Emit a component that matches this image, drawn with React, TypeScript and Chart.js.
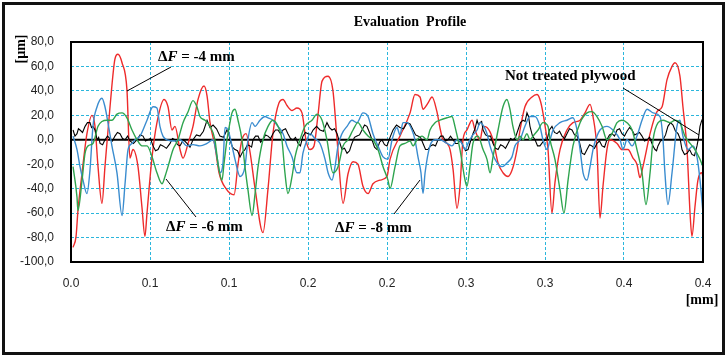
import React, { useEffect, useRef } from 'react';
import { Chart, registerables } from 'chart.js';
Chart.register(...registerables);

// x in mm, y in µm
const redPts: [number, number][] = [[0.0013,-88],[0.0032,-79],[0.0044,-58],[0.0070,-27],[0.0101,5],[0.0133,20],[0.0152,11],[0.0171,-22],[0.0196,-52],[0.0215,-22],[0.0247,27],[0.0278,66],[0.0297,70],[0.0323,63],[0.0354,41],[0.0373,-15],[0.0392,-8],[0.0424,-22],[0.0449,-55],[0.0468,-79],[0.0481,-60],[0.0513,-14],[0.0544,14],[0.0589,33],[0.0614,27],[0.0639,8],[0.0658,11],[0.0690,-8],[0.0709,-15],[0.0741,-3],[0.0772,11],[0.0804,33],[0.0842,44],[0.0861,36],[0.0880,14],[0.0911,-5],[0.0937,-27],[0.0981,-40],[0.1032,-45],[0.1057,-20],[0.1082,0],[0.1108,5],[0.1133,-10],[0.1165,-40],[0.1215,-76],[0.1247,-40],[0.1278,5],[0.1316,30],[0.1342,33],[0.1367,28],[0.1399,24],[0.1430,26],[0.1462,22],[0.1487,0],[0.1513,-8],[0.1538,-5],[0.1563,20],[0.1589,48],[0.1627,52],[0.1658,40],[0.1684,0],[0.1722,-52],[0.1753,-28],[0.1785,-18],[0.1816,-20],[0.1848,-38],[0.1880,-44],[0.1911,-36],[0.1956,-33],[0.2000,-30],[0.2019,-16],[0.2082,3],[0.2146,22],[0.2177,37],[0.2209,35],[0.2228,25],[0.2259,30],[0.2285,35],[0.2316,23],[0.2335,10],[0.2354,0],[0.2380,-3],[0.2399,-8],[0.2418,-24],[0.2443,-56],[0.2462,-38],[0.2481,0],[0.2506,8],[0.2538,16],[0.2557,8],[0.2589,0],[0.2608,11],[0.2633,10],[0.2671,0],[0.2703,-19],[0.2734,-27],[0.2766,-30],[0.2791,-25],[0.2823,-8],[0.2842,8],[0.2873,27],[0.2918,35],[0.2949,37],[0.2968,33],[0.2987,22],[0.3019,-8],[0.3044,-60],[0.3063,-35],[0.3095,-8],[0.3139,8],[0.3177,14],[0.3222,16],[0.3253,22],[0.3285,29],[0.3304,19],[0.3329,-8],[0.3348,-64],[0.3367,-38],[0.3392,-8],[0.3411,0],[0.3456,-3],[0.3487,-8],[0.3525,-8],[0.3557,-15],[0.3582,-20],[0.3601,-31],[0.3620,-22],[0.3665,5],[0.3709,23],[0.3741,27],[0.3772,49],[0.3804,60],[0.3823,63],[0.3854,52],[0.3873,27],[0.3899,-8],[0.3918,-60],[0.3930,-79],[0.3949,-55],[0.3968,-33],[0.3994,-27],[0.4000,-32]];

const bluePts: [number, number][] = [[0.0013,3],[0.0038,-8],[0.0057,-22],[0.0076,-33],[0.0101,-44],[0.0120,-25],[0.0139,11],[0.0165,27],[0.0196,34],[0.0215,27],[0.0234,14],[0.0259,-5],[0.0291,-27],[0.0323,-62],[0.0342,-36],[0.0361,-8],[0.0386,-3],[0.0405,0],[0.0437,3],[0.0481,16],[0.0519,27],[0.0544,26],[0.0563,11],[0.0582,3],[0.0608,0],[0.0658,-1],[0.0690,0],[0.0734,-5],[0.0772,-4],[0.0816,-5],[0.0861,-3],[0.0899,0],[0.0924,-14],[0.0943,-27],[0.0962,-19],[0.0975,10],[0.0994,8],[0.1019,-5],[0.1038,-16],[0.1070,-30],[0.1101,-22],[0.1120,0],[0.1146,14],[0.1165,11],[0.1196,16],[0.1228,19],[0.1247,18],[0.1278,16],[0.1310,11],[0.1342,5],[0.1367,-5],[0.1399,-14],[0.1430,-27],[0.1449,-27],[0.1468,-11],[0.1494,0],[0.1513,5],[0.1544,1],[0.1576,-3],[0.1608,-16],[0.1627,-27],[0.1652,-33],[0.1671,-22],[0.1690,-5],[0.1715,5],[0.1747,11],[0.1778,16],[0.1810,14],[0.1848,22],[0.1880,19],[0.1911,5],[0.1943,-5],[0.1975,-14],[0.2006,-16],[0.2032,0],[0.2063,10],[0.2082,4],[0.2101,14],[0.2127,14],[0.2158,8],[0.2177,0],[0.2196,-14],[0.2215,-27],[0.2228,-44],[0.2241,-27],[0.2272,-5],[0.2304,0],[0.2335,0],[0.2380,-3],[0.2411,-5],[0.2443,0],[0.2475,-3],[0.2494,-8],[0.2513,-3],[0.2538,3],[0.2570,8],[0.2589,14],[0.2608,12],[0.2633,5],[0.2652,-5],[0.2684,-16],[0.2728,-22],[0.2759,-19],[0.2791,-14],[0.2810,-5],[0.2842,0],[0.2873,11],[0.2905,19],[0.2937,19],[0.2968,11],[0.2987,0],[0.3013,-8],[0.3032,0],[0.3051,8],[0.3095,14],[0.3139,16],[0.3177,18],[0.3203,8],[0.3222,-8],[0.3241,-27],[0.3266,-33],[0.3285,-22],[0.3304,-8],[0.3329,3],[0.3348,8],[0.3392,11],[0.3430,8],[0.3475,0],[0.3494,-8],[0.3519,0],[0.3551,-5],[0.3582,3],[0.3614,16],[0.3646,25],[0.3684,22],[0.3728,19],[0.3747,0],[0.3759,-27],[0.3778,-53],[0.3804,-27],[0.3835,11],[0.3854,16],[0.3873,3],[0.3905,-8],[0.3937,-5],[0.3962,-14],[0.3981,-33],[0.4000,-60]];

const greenPts: [number, number][] = [[0.0013,-22],[0.0038,-47],[0.0044,-58],[0.0070,-33],[0.0089,-11],[0.0108,-5],[0.0139,-3],[0.0171,11],[0.0196,15],[0.0228,16],[0.0259,16],[0.0291,21],[0.0323,22],[0.0354,18],[0.0386,8],[0.0418,0],[0.0449,-5],[0.0481,-5],[0.0513,-14],[0.0544,-27],[0.0576,-36],[0.0595,-30],[0.0614,-22],[0.0646,-8],[0.0677,0],[0.0709,14],[0.0741,23],[0.0772,32],[0.0797,27],[0.0816,19],[0.0848,16],[0.0880,11],[0.0911,0],[0.0930,-19],[0.0956,-33],[0.0968,-20],[0.0987,0],[0.1006,14],[0.1019,22],[0.1038,25],[0.1057,16],[0.1082,0],[0.1101,-22],[0.1120,-41],[0.1146,-62],[0.1165,-44],[0.1184,-22],[0.1215,0],[0.1247,11],[0.1278,16],[0.1310,11],[0.1335,0],[0.1354,-27],[0.1373,-44],[0.1399,-30],[0.1418,-14],[0.1449,0],[0.1481,11],[0.1525,16],[0.1557,21],[0.1589,16],[0.1620,0],[0.1658,-27],[0.1690,-22],[0.1722,-5],[0.1753,0],[0.1785,8],[0.1816,14],[0.1848,8],[0.1880,3],[0.1911,0],[0.1943,-8],[0.1975,-22],[0.2006,-33],[0.2019,-40],[0.2051,-22],[0.2082,-5],[0.2114,-3],[0.2146,-1],[0.2165,-5],[0.2190,0],[0.2222,3],[0.2253,0],[0.2272,8],[0.2304,14],[0.2335,16],[0.2380,18],[0.2411,19],[0.2430,11],[0.2462,-8],[0.2494,-33],[0.2506,-38],[0.2525,-22],[0.2544,-3],[0.2576,3],[0.2608,-8],[0.2633,-16],[0.2652,-27],[0.2671,-14],[0.2703,8],[0.2734,27],[0.2759,33],[0.2778,25],[0.2797,11],[0.2823,0],[0.2842,3],[0.2861,0],[0.2886,5],[0.2905,0],[0.2924,3],[0.2956,8],[0.2987,14],[0.3019,11],[0.3032,0],[0.3063,-16],[0.3095,-41],[0.3120,-60],[0.3146,-33],[0.3177,-5],[0.3222,14],[0.3266,22],[0.3297,23],[0.3329,19],[0.3361,11],[0.3392,0],[0.3424,5],[0.3456,14],[0.3487,16],[0.3519,14],[0.3551,8],[0.3582,-8],[0.3614,-27],[0.3639,-53],[0.3665,-27],[0.3684,0],[0.3716,14],[0.3747,16],[0.3791,14],[0.3823,16],[0.3854,14],[0.3886,3],[0.3918,-3],[0.3949,-8],[0.3981,-16],[0.4000,-22]];

const blackPts: [number, number][] = [[0.0013,8],[0.0025,3],[0.0038,5],[0.0047,9],[0.0057,8],[0.0073,6],[0.0089,11],[0.0104,14],[0.0120,14],[0.0130,10],[0.0139,11],[0.0152,8],[0.0165,0],[0.0175,2],[0.0184,-3],[0.0200,-4],[0.0215,0],[0.0231,3],[0.0247,1],[0.0262,-1],[0.0278,3],[0.0294,6],[0.0310,5],[0.0326,1],[0.0342,0],[0.0358,3],[0.0373,-1],[0.0395,-3],[0.0418,0],[0.0437,4],[0.0456,3],[0.0471,-1],[0.0487,0],[0.0503,1],[0.0519,-5],[0.0535,-9],[0.0551,-8],[0.0566,-4],[0.0582,-5],[0.0604,-7],[0.0627,-3],[0.0642,1],[0.0658,0],[0.0674,-4],[0.0690,-5],[0.0712,0],[0.0734,-3],[0.0753,-6],[0.0772,0],[0.0794,4],[0.0816,3],[0.0838,7],[0.0861,16],[0.0880,10],[0.0899,12],[0.0921,9],[0.0943,3],[0.0965,2],[0.0987,8],[0.0997,6],[0.1006,0],[0.1022,-6],[0.1038,-8],[0.1054,-9],[0.1070,-14],[0.1086,-10],[0.1101,-8],[0.1117,-4],[0.1133,-5],[0.1143,-6],[0.1152,0],[0.1168,3],[0.1184,3],[0.1200,-2],[0.1215,0],[0.1231,4],[0.1247,3],[0.1263,1],[0.1278,5],[0.1294,8],[0.1310,8],[0.1326,5],[0.1342,8],[0.1358,9],[0.1373,5],[0.1389,1],[0.1405,0],[0.1421,2],[0.1437,-3],[0.1452,-5],[0.1468,3],[0.1484,6],[0.1500,5],[0.1516,4],[0.1532,8],[0.1554,11],[0.1576,8],[0.1598,7],[0.1620,14],[0.1636,10],[0.1652,8],[0.1668,9],[0.1684,5],[0.1700,-2],[0.1715,-8],[0.1731,-7],[0.1747,-11],[0.1763,-9],[0.1778,-3],[0.1794,2],[0.1810,3],[0.1826,4],[0.1842,8],[0.1858,12],[0.1873,11],[0.1889,6],[0.1905,0],[0.1921,-6],[0.1937,-8],[0.1953,-2],[0.1968,0],[0.1984,-4],[0.2000,-5],[0.2019,2],[0.2038,8],[0.2060,12],[0.2082,10],[0.2105,9],[0.2127,14],[0.2146,13],[0.2165,8],[0.2181,4],[0.2196,3],[0.2212,2],[0.2228,-3],[0.2244,-8],[0.2259,-8],[0.2275,-5],[0.2291,-4],[0.2307,-5],[0.2323,0],[0.2339,3],[0.2354,3],[0.2370,-1],[0.2386,0],[0.2402,3],[0.2418,0],[0.2434,-3],[0.2449,-3],[0.2465,0],[0.2481,-5],[0.2497,-9],[0.2513,-8],[0.2529,-1],[0.2544,5],[0.2557,9],[0.2570,16],[0.2580,12],[0.2589,14],[0.2599,15],[0.2608,8],[0.2624,4],[0.2639,3],[0.2655,3],[0.2671,-3],[0.2687,-7],[0.2703,-8],[0.2719,-4],[0.2734,-5],[0.2750,-7],[0.2766,-3],[0.2782,1],[0.2797,0],[0.2813,2],[0.2829,8],[0.2845,14],[0.2861,16],[0.2874,15],[0.2886,22],[0.2896,19],[0.2905,11],[0.2921,3],[0.2937,0],[0.2953,-5],[0.2968,-5],[0.2991,-1],[0.3013,0],[0.3028,8],[0.3044,11],[0.3060,6],[0.3076,5],[0.3092,7],[0.3108,3],[0.3124,1],[0.3139,5],[0.3155,9],[0.3171,8],[0.3187,4],[0.3203,3],[0.3218,-2],[0.3234,-11],[0.3250,-12],[0.3266,-8],[0.3282,-4],[0.3297,-5],[0.3313,-7],[0.3329,-3],[0.3345,-1],[0.3361,-5],[0.3377,-6],[0.3392,0],[0.3408,4],[0.3424,5],[0.3440,3],[0.3456,8],[0.3472,9],[0.3487,5],[0.3503,3],[0.3519,7],[0.3535,10],[0.3551,8],[0.3567,4],[0.3582,5],[0.3598,6],[0.3614,3],[0.3630,-1],[0.3646,0],[0.3662,2],[0.3677,-3],[0.3687,-6],[0.3696,-8],[0.3706,-9],[0.3715,-5],[0.3731,-1],[0.3747,0],[0.3763,4],[0.3778,11],[0.3794,14],[0.3810,12],[0.3826,7],[0.3842,5],[0.3855,1],[0.3867,-8],[0.3883,-12],[0.3899,-11],[0.3915,-8],[0.3930,-12],[0.3946,-13],[0.3962,-5],[0.3972,2],[0.3981,11],[0.3990,15],[0.4000,18]];

const xTickValues = [0, 0.05, 0.1, 0.15, 0.2, 0.25, 0.3, 0.35, 0.4];
const xTickLabels = ['0.0', '0.1', '0.1', '0.2', '0.2', '0.3', '0.3', '0.4', '0.4'];
const yTickValues = [-100, -80, -60, -40, -20, 0, 20, 40, 60, 80];
const yTickLabels = ['-100,0', '-80,0', '-60,0', '-40,0', '-20,0', '0,0', '20,0', '40,0', '60,0', '80,0'];

const SERIF = "'Liberation Serif', 'Times New Roman', serif";
const SANS = "'Liberation Sans', Arial, sans-serif";
const NARROW = "'Liberation Sans Narrow', 'Liberation Sans', Arial, sans-serif";

const GRID = '#2bb6dc';

function drawLabel(ctx: CanvasRenderingContext2D, x: number, y: number, tail: string) {
  ctx.textBaseline = 'middle';
  ctx.textAlign = 'left';
  ctx.fillStyle = '#000';
  ctx.font = `bold 15px ${SERIF}`;
  ctx.fillText('\u0394', x, y);
  let cx = x + ctx.measureText('\u0394').width;
  ctx.font = `italic bold 15px ${SERIF}`;
  ctx.fillText('F', cx, y);
  cx += ctx.measureText('F').width;
  ctx.font = `bold 15px ${SERIF}`;
  ctx.fillText(tail, cx, y);
}

function line(ctx: CanvasRenderingContext2D, x1: number, y1: number, x2: number, y2: number) {
  ctx.beginPath();
  ctx.moveTo(x1, y1);
  ctx.lineTo(x2, y2);
  ctx.stroke();
}

const decor = {
  id: 'decor',
  beforeDraw(chart: any) {
    const ctx = chart.ctx as CanvasRenderingContext2D;
    ctx.save();
    ctx.fillStyle = '#fff';
    ctx.fillRect(0, 0, chart.width, chart.height);
    ctx.restore();
  },
  beforeDatasetsDraw(chart: any) {
    const ctx = chart.ctx as CanvasRenderingContext2D;
    const { left, right } = chart.chartArea;
    const y0 = chart.scales.y.getPixelForValue(0);
    ctx.save();
    ctx.strokeStyle = '#000';
    ctx.lineWidth = 2;
    line(ctx, left, y0, right, y0);
    ctx.restore();
  },
  afterDraw(chart: any) {
    const ctx = chart.ctx as CanvasRenderingContext2D;
    const { left, right, top, bottom } = chart.chartArea;
    ctx.save();
    ctx.strokeStyle = '#000';
    ctx.lineWidth = 2;
    ctx.strokeRect(left, top, right - left, bottom - top);
    ctx.lineWidth = 3;
    ctx.strokeStyle = '#111';
    ctx.strokeRect(3.5, 3.5, 720, 350);
    ctx.fillStyle = '#000';
    ctx.textAlign = 'center';
    ctx.textBaseline = 'middle';
    ctx.font = `bold 14px ${SERIF}`;
    ctx.fillText('Evaluation  Profile', 410, 22);
    ctx.fillText('[mm]', 702, 300);
    ctx.save();
    ctx.translate(21, 49);
    ctx.rotate(-Math.PI / 2);
    ctx.fillText('[\u00b5m]', 0, 0);
    ctx.restore();
    drawLabel(ctx, 158, 57, ' = -4 mm');
    drawLabel(ctx, 166, 227, ' = -6 mm');
    drawLabel(ctx, 335, 228, ' = -8 mm');
    ctx.font = `bold 15px ${SERIF}`;
    ctx.textAlign = 'left';
    ctx.fillText('Not treated plywood', 505, 76);
    ctx.strokeStyle = '#000';
    ctx.lineWidth = 1;
    line(ctx, 171, 67, 127, 91);
    line(ctx, 166, 179, 196, 217);
    line(ctx, 394, 214, 420, 180);
    line(ctx, 623, 88, 699, 135);
    ctx.restore();
  },
};

export default function App() {
  const ref = useRef<HTMLCanvasElement>(null);
  useEffect(() => {
    document.body.style.margin = '0';
    const canvas = ref.current!;
    const mk = (pts: [number, number][]) => pts.map(([x, y]) => ({ x, y }));
    const ds = (label: string, pts: [number, number][], color: string, w: number, smooth: boolean) => ({
      label,
      data: mk(pts),
      borderColor: color,
      backgroundColor: color,
      borderWidth: w,
      pointRadius: 0,
      fill: false,
      tension: 0,
      cubicInterpolationMode: smooth ? ('monotone' as const) : ('default' as const),
    });
    const chart = new Chart(canvas, {
      type: 'line',
      data: {
        datasets: [
          ds('ΔF = -6 mm', greenPts, '#2ea44e', 1.4, true),
          ds('ΔF = -8 mm', bluePts, '#3a8ccf', 1.4, true),
          ds('Not treated plywood', blackPts, '#000000', 1.1, false),
          ds('ΔF = -4 mm', redPts, '#ee2b2b', 1.4, true),
        ],
      },
      options: {
        responsive: false,
        animation: false,
        devicePixelRatio: 1,
        layout: { padding: { left: 0, right: 25, top: 42, bottom: 0 } },
        plugins: { legend: { display: false }, title: { display: false }, tooltip: { enabled: false } },
        scales: {
          x: {
            type: 'linear',
            min: 0,
            max: 0.4,
            afterBuildTicks: (s: any) => { s.ticks = xTickValues.map((v) => ({ value: v })); },
            afterFit: (s: any) => { s.height = 97; },
            ticks: {
              autoSkip: false,
              maxRotation: 0,
              padding: 14,
              color: '#222',
              font: { family: SANS, size: 12 },
              callback: (_v: any, i: number) => xTickLabels[i] ?? '',
            },
            grid: { color: GRID, lineWidth: 1, drawTicks: false },
            border: { display: false, dash: [3, 2] },
          },
          y: {
            min: -100,
            max: 80,
            afterBuildTicks: (s: any) => { s.ticks = yTickValues.map((v) => ({ value: v })); },
            afterFit: (s: any) => { s.width = 71; },
            ticks: {
              autoSkip: false,
              padding: 17,
              color: '#222',
              font: { family: NARROW, size: 12 },
              callback: (_v: any, i: number) => yTickLabels[i] ?? '',
            },
            grid: { color: GRID, lineWidth: 1, drawTicks: false },
            border: { display: false, dash: [3, 2] },
          },
        },
      },
      plugins: [decor],
    });
    return () => chart.destroy();
  }, []);
  return <canvas ref={ref} width={728} height={359} style={{ display: 'block', width: 728, height: 359 }} />;
}
